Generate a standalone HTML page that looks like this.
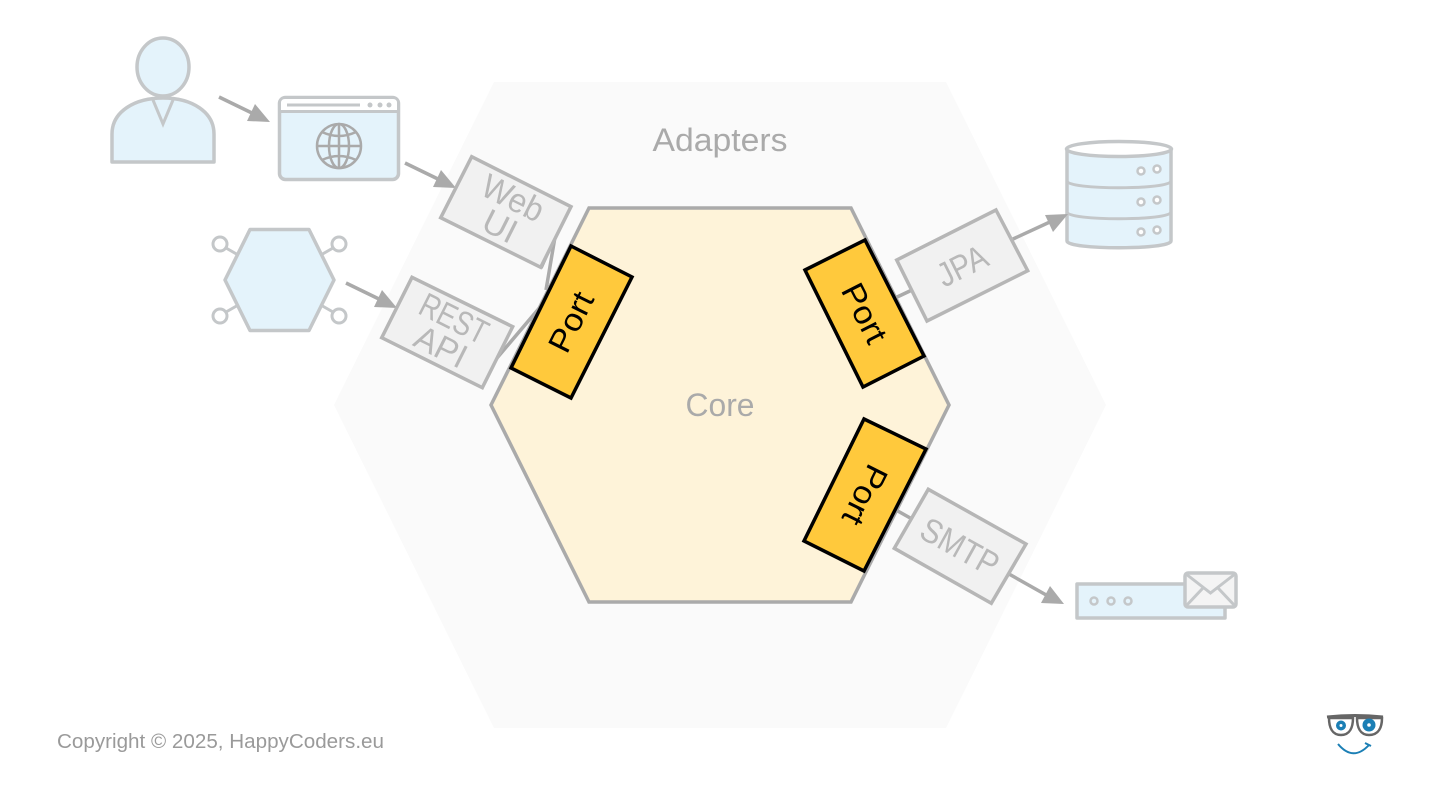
<!DOCTYPE html>
<html><head><meta charset="utf-8"><style>
html,body{margin:0;padding:0;background:#fff}
svg{display:block}
text{font-family:"Liberation Sans","DejaVu Sans",sans-serif;text-anchor:middle}
.i{fill:#e4f3fb;stroke:#c4c7c9;stroke-width:3.5;stroke-linejoin:round}
.l{fill:none;stroke:#c4c7c9;stroke-width:3}
.a{fill:none;stroke:#aaa;stroke-width:3.5}
.h{fill:#aaa;stroke:none}
.b{fill:#f1f1f1;stroke:#b6b6b6;stroke-width:3.5;stroke-linejoin:miter}
.p{fill:#ffc93c;stroke:#000;stroke-width:3.5;stroke-linejoin:miter}
.t{fill:#b8b8b8;font-size:34px}
.k{fill:#000;font-size:32px}
</style></head><body>
<svg width="1440" height="810" viewBox="0 0 1440 810" xmlns="http://www.w3.org/2000/svg">
<rect width="1440" height="810" fill="#fff"/>
<polygon points="494,82 946,82 1106,405 946,728 494,728 334,405" fill="#fafafa"/>
<polygon points="589,208 851,208 949,405 851,602 589,602 491,405" fill="#fef3d9" stroke="#aaa" stroke-width="3.5"/>
<text x="720" y="151" font-size="32" fill="#aaa" textLength="135" lengthAdjust="spacingAndGlyphs">Adapters</text>
<text x="720" y="416" font-size="32" fill="#aaa" textLength="69" lengthAdjust="spacingAndGlyphs">Core</text>

<!-- person -->
<path class="i" d="M112,162 V134 C112,112 134,98 163,98 C192,98 214,112 214,134 V162 Z"/>
<ellipse class="i" cx="163" cy="67" rx="26" ry="29"/>
<path class="l" d="M153,100 L163,124 L173,100"/>
<!-- browser -->
<rect class="i" x="279.500" y="97.500" width="119" height="82" rx="6"/>
<path d="M281,111 V103 Q281,99 285,99 H393 Q397,99 397,103 V111 Z" fill="#fff"/>
<path class="l" d="M279,111.500 H398" stroke-width="3.5"/>
<path class="l" d="M287,105 H360"/>
<circle cx="370" cy="105" r="2.500" fill="#c4c7c9"/><circle cx="380" cy="105" r="2.500" fill="#c4c7c9"/><circle cx="389" cy="105" r="2.500" fill="#c4c7c9"/>
<g fill="none" stroke="#aaa" stroke-width="2.500">
<circle cx="339" cy="146" r="22"/>
<ellipse cx="339" cy="146" rx="10" ry="22"/>
<path d="M339,124 V168 M317,146 H361 M322,132 Q339,140 356,132 M322,160 Q339,152 356,160"/>
</g>
<!-- hex actor -->
<path class="l" d="M226,248 L240,256 M333,248 L319,256 M226,312 L240,304 M333,312 L319,304"/>
<polygon class="i" points="250,229.500 309,229.500 334,280 309,330.500 250,330.500 225,280"/>
<circle cx="220" cy="244" r="7" fill="#fff" stroke="#c4c7c9" stroke-width="3"/>
<circle cx="339" cy="244" r="7" fill="#fff" stroke="#c4c7c9" stroke-width="3"/>
<circle cx="220" cy="316" r="7" fill="#fff" stroke="#c4c7c9" stroke-width="3"/>
<circle cx="339" cy="316" r="7" fill="#fff" stroke="#c4c7c9" stroke-width="3"/>
<!-- database -->
<path class="i" d="M1067,149 V241 C1067,250 1171,250 1171,241 V149 Z"/>
<ellipse cx="1119" cy="149" rx="52.500" ry="7.500" fill="#fff" stroke="#c4c7c9" stroke-width="3.500"/>
<path class="l" d="M1067,181 C1067,190 1171,190 1171,181 M1067,212 C1067,221 1171,221 1171,212" stroke-width="3.500"/>
<g fill="#fff" stroke="#c4c7c9" stroke-width="2.500">
<circle cx="1141" cy="171" r="3.500"/><circle cx="1157" cy="169" r="3.500"/>
<circle cx="1141" cy="202" r="3.500"/><circle cx="1157" cy="200" r="3.500"/>
<circle cx="1141" cy="232" r="3.500"/><circle cx="1157" cy="230" r="3.500"/>
</g>
<!-- mail -->
<rect class="i" x="1077" y="584" width="148" height="34"/>
<g fill="none" stroke="#c4c7c9" stroke-width="2.500"><circle cx="1094" cy="601" r="3.500"/><circle cx="1111" cy="601" r="3.500"/><circle cx="1128" cy="601" r="3.500"/></g>
<rect x="1185" y="573" width="51" height="34" rx="3" fill="#f4f4f4" stroke="#c4c7c9" stroke-width="3.500"/>
<path class="l" d="M1186,574 L1210.500,593 L1235,574 M1186,606 L1203,588 M1235,606 L1218,588"/>

<!-- connectors -->
<path class="a" d="M219,97 L254,114"/><polygon class="h" points="270,122 247,121 255,104"/>
<path class="a" d="M405,163 L440,180"/><polygon class="h" points="456,188 433,187 441,170"/>
<path class="a" d="M346,283 L381,300"/><polygon class="h" points="397,308 374,307 382,290"/>
<path class="a" d="M1013,239 L1052,221"/><polygon class="h" points="1068,214 1053,232 1045,215"/>
<path class="a" d="M1009,574 L1048,596"/><polygon class="h" points="1064,604 1041,603 1050,586"/>
<path class="a" stroke-width="3" d="M555,237 L541,268 M555,237 L546,290 M497,358 L541,306 M895,298 L912,290 M896,510 L912,519"/>

<!-- adapters -->
<polygon class="b" points="471.700,156.700 571,206.700 540.700,267.300 440.700,217.700"/>
<g transform="translate(506,212) rotate(26.700)">
<text class="t" y="-4" textLength="65" lengthAdjust="spacingAndGlyphs">Web</text>
<text class="t" x="1" y="27" textLength="34" lengthAdjust="spacingAndGlyphs">UI</text></g>
<polygon class="b" points="412,277.300 512.700,326.700 482.300,387.700 381.700,337.700"/>
<g transform="translate(447,332.500) rotate(26.700)">
<text class="t" y="-4" textLength="72" lengthAdjust="spacingAndGlyphs">REST</text>
<text class="t" x="1" y="27" textLength="54" lengthAdjust="spacingAndGlyphs">API</text></g>
<polygon class="b" points="996,210 1027.700,270.700 927,321 896.700,260"/>
<g transform="translate(962,265.500) rotate(-26.500)"><text class="t" y="12" textLength="52" lengthAdjust="spacingAndGlyphs">JPA</text></g>
<polygon class="b" points="928.300,489.300 1026,544 991.300,603.300 894.300,548.300"/>
<g transform="translate(960,546.500) rotate(29)"><text class="t" y="12" textLength="84" lengthAdjust="spacingAndGlyphs">SMTP</text></g>

<!-- ports -->
<polygon class="p" points="571,246 632,277 571,398 511,368"/>
<g transform="translate(571,322) rotate(-63.500)"><text class="k" y="11" textLength="63" lengthAdjust="spacingAndGlyphs">Port</text></g>
<polygon class="p" points="805,270 865,240 924,356 863,387"/>
<g transform="translate(864.500,313) rotate(63)"><text class="k" y="11" textLength="63" lengthAdjust="spacingAndGlyphs">Port</text></g>
<polygon class="p" points="864,419 926,449 864,571 804,541"/>
<g transform="translate(865,495) rotate(116.500)"><text class="k" y="11" textLength="63" lengthAdjust="spacingAndGlyphs">Port</text></g>

<!-- footer -->
<text x="220.500" y="748" font-size="20" fill="#9a9a9a" textLength="327" lengthAdjust="spacingAndGlyphs">Copyright © 2025, HappyCoders.eu</text>
<!-- logo -->
<g fill="#fff" stroke="#666" stroke-width="2.500">
<path d="M1327,717 Q1355,714 1383,717" fill="none" stroke-width="3"/>
<path d="M1329,718 H1353 C1353,727 1350,735 1341,735 C1332,735 1329,727 1329,718 Z"/>
<path d="M1357,718 H1382 C1382,727 1379,735 1369,735 C1360,735 1357,727 1357,718 Z"/>
</g>
<circle cx="1341" cy="725.500" r="5" fill="#1b7fb5"/><circle cx="1341" cy="725.500" r="1.500" fill="#fff"/>
<circle cx="1369" cy="725" r="6.500" fill="#1b7fb5"/><circle cx="1369" cy="725" r="1.800" fill="#fff"/>
<path d="M1338,744 Q1353,762 1369,745 M1365,743 L1371,746" fill="none" stroke="#1b7fb5" stroke-width="2"/>
</svg>
</body></html>
